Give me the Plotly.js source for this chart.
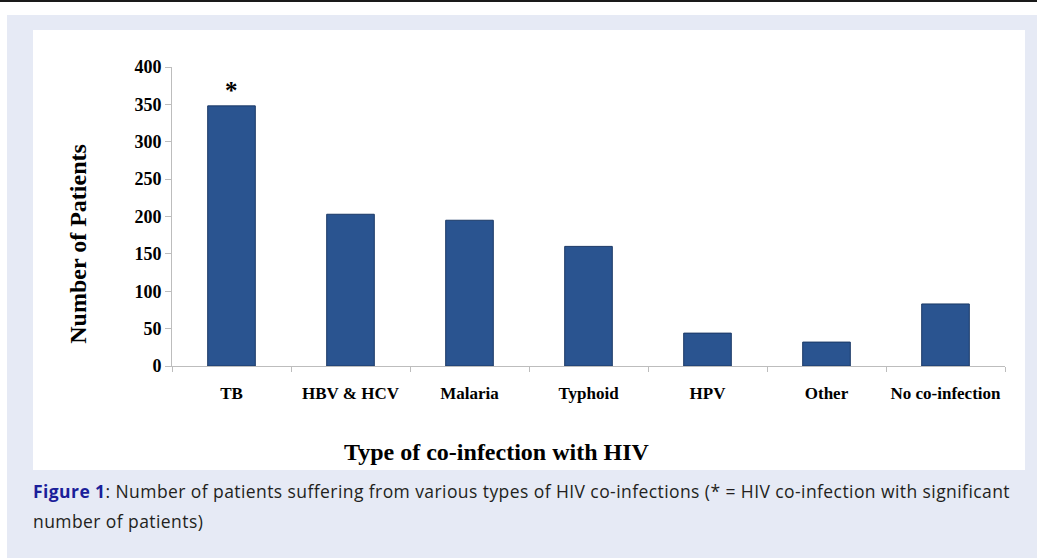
<!DOCTYPE html>
<html>
<head>
<meta charset="utf-8">
<script src="https://cdn.plot.ly/plotly-3.0.1.min.js"></script>
<style>
  html, body { margin: 0; padding: 0; width: 1037px; height: 558px; background: #ffffff; overflow: hidden; }
  #topline { position: absolute; left: 0; top: 0; width: 1037px; height: 2px; background: #1a1a1a; }
  #panel { position: absolute; left: 7px; top: 15px; width: 1030px; height: 543px; background: #e6eaf5; }
  #card { position: absolute; left: 33px; top: 30px; width: 992px; height: 440px; background: #ffffff; }
  #chart { position: absolute; left: 0; top: 0; width: 992px; height: 440px; }
  #caption { position: absolute; left: 33px; top: 476px; width: 1000px; font-family: "Open Sans", "Noto Sans", sans-serif; font-size: 17.5px; letter-spacing: 0.42px; word-spacing: 0px; line-height: 30px; color: #231f20; white-space: nowrap; }
  #caption b { color: #1b1f9a; font-weight: 700; }
</style>
</head>
<body>
<div id="topline"></div>
<div id="panel"></div>
<div id="card"><div id="chart"></div></div>
<div id="caption"><b>Figure 1</b>: Number of patients suffering from various types of HIV co-infections (* = HIV co-infection with significant<br>number of patients)</div>
<script>
const categories = ["TB", "HBV & HCV", "Malaria", "Typhoid", "HPV", "Other", "No co-infection"];
const patients = [348, 203, 195, 160, 44, 32, 83];
const yTicks = [0, 50, 100, 150, 200, 250, 300, 350, 400];
const significant = ["TB"];

const serif = "'Liberation Serif', 'Times New Roman', serif";

const trace = {
  type: "bar",
  x: categories,
  y: patients,
  marker: { color: "#2a5490", line: { color: "#1b3966", width: 1 } },
  hoverinfo: "x+y"
};

const annotations = significant.map(c => ({
  x: c, y: patients[categories.indexOf(c)], xref: "x", yref: "y",
  text: "<b>*</b>", showarrow: false, yanchor: "bottom", yshift: 0,
  font: { family: serif, size: 25, color: "#000" }
}));
annotations.push({
  text: "<b>Number of Patients</b>", textangle: -90, showarrow: false,
  xref: "paper", yref: "paper", x: 0, y: 0.409, xshift: -94,
  xanchor: "center", yanchor: "middle",
  font: { family: serif, size: 24, color: "#000" }
});
annotations.push({
  text: "<b>Type of co-infection with HIV</b>", showarrow: false,
  xref: "paper", yref: "paper", x: 0.39, y: 0, yshift: -85.5,
  xanchor: "center", yanchor: "middle",
  font: { family: serif, size: 24, color: "#000" }
});

const layout = {
  width: 992, height: 440,
  margin: { l: 139, r: 20, t: 37, b: 103.5 },
  paper_bgcolor: "rgba(0,0,0,0)",
  plot_bgcolor: "rgba(0,0,0,0)",
  showlegend: false,
  bargap: 0.6,
  xaxis: {
    type: "category",
    showline: true, linecolor: "#bdbdbd", linewidth: 1,
    ticks: "outside", tickson: "boundaries", ticklen: 5, tickcolor: "#bdbdbd",
    ticklabelstandoff: 12, tickangle: 0,
    tickfont: { family: serif, size: 17, color: "#000", weight: "bold" },
    showgrid: false, zeroline: false, fixedrange: true
  },
  yaxis: {
    range: [0, 400],
    tickvals: yTicks,
    showline: true, linecolor: "#bdbdbd", linewidth: 1,
    ticks: "outside", ticklen: 6, tickcolor: "#bdbdbd",
    tickfont: { family: serif, size: 18, color: "#000", weight: "bold" },
    showgrid: false, zeroline: false, fixedrange: true
  },
  annotations: annotations
};

Plotly.newPlot("chart", [trace], layout, { displayModeBar: false, staticPlot: true });
</script>
</body>
</html>
